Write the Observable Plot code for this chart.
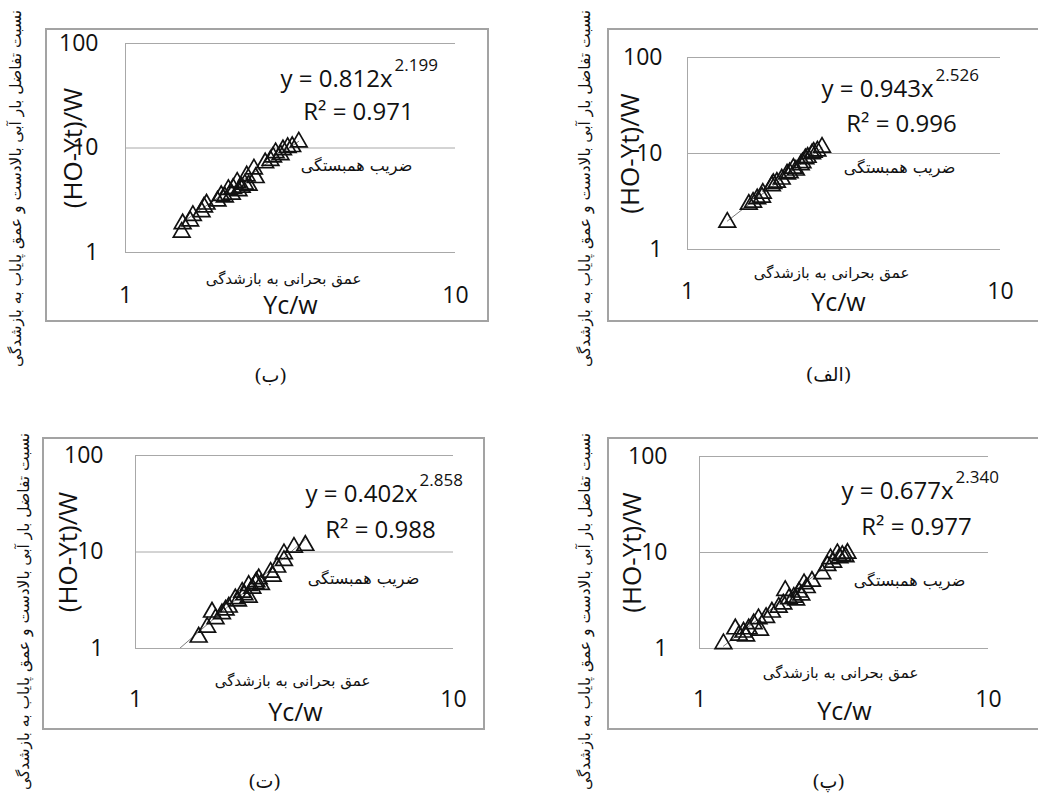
<!DOCTYPE html>
<html>
<head>
<meta charset="utf-8">
<script src="https://cdn.jsdelivr.net/npm/d3@7"></script>
<script src="https://cdn.jsdelivr.net/npm/@observablehq/plot@0.6"></script>
<style>
  html, body { margin: 0; padding: 0; background: #fff; overflow: hidden; }
  #root { position: relative; width: 1038px; height: 796px; overflow: hidden; }
  .panel { position: absolute; }
  .box { position: absolute; border: 2px solid #a3a3a3; box-sizing: border-box; pointer-events: none; }
</style>
</head>
<body>
<div id="root"></div>
<script>
// ---------------- DATA ----------------
// Panel (ب) top-left
const xBe = [1.48,1.49,1.57,1.60,1.70,1.73,1.76,1.90,1.95,2.00,2.05,2.10,2.12,2.18,2.20,2.25,2.30,2.33,2.36,2.45,2.48,2.65,2.75,2.80,2.85,2.95,3.00,3.10,3.20,3.35];
const yBe = [1.56,1.88,2.00,2.26,2.45,2.72,2.90,3.10,3.50,3.40,4.00,3.60,4.10,4.70,3.90,4.20,4.50,5.40,4.40,6.30,5.20,7.20,7.60,8.20,9.00,8.60,9.60,10.1,10.3,11.4];
// Panel (الف) top-right
const xAlef = [1.34,1.57,1.62,1.67,1.73,1.74,1.86,1.88,1.93,2.00,2.08,2.12,2.18,2.22,2.30,2.33,2.38,2.42,2.50,2.53,2.60,2.69];
const yAlef = [1.92,2.95,3.10,3.37,3.50,3.85,4.60,4.85,5.00,5.40,6.10,6.30,7.00,6.70,7.60,8.00,8.80,9.10,9.90,10.3,10.6,11.6];
// Panel (ت) bottom-left
const xTe = [1.58,1.68,1.74,1.785,1.87,1.92,1.965,2.06,2.10,2.165,2.20,2.27,2.27,2.33,2.385,2.40,2.44,2.48,2.66,2.70,2.79,2.93,2.93,3.15,3.42];
const yTe = [1.31,1.66,2.38,2.03,2.29,2.50,2.68,3.27,3.10,3.83,3.60,4.50,3.40,4.20,4.68,4.90,5.27,4.60,6.17,5.60,6.96,8.16,9.58,11.2,11.7];
// Panel (پ) bottom-right
const xPe = [1.21,1.33,1.37,1.42,1.45,1.48,1.54,1.60,1.62,1.70,1.78,1.88,1.95,1.98,2.04,2.12,2.16,2.21,2.25,2.30,2.35,2.45,2.66,2.77,2.84,2.90,3.00,3.05,3.12,3.20,3.25];
const yPe = [1.12,1.60,1.37,1.48,1.35,1.60,1.81,2.04,1.55,2.10,2.39,2.69,2.90,4.02,3.30,3.42,3.20,3.86,3.60,4.72,4.30,5.00,6.00,7.30,8.60,7.90,9.70,8.80,9.30,9.00,9.80];

// Fit coefficients (panel order: ب, الف, ت, پ)
const panelNames = ["(ب)", "(الف)", "(ت)", "(پ)"];
const coefA = [0.812, 0.943, 0.402, 0.677];
const coefB = [2.199, 2.526, 2.858, 2.340];
const rSquared = [0.971, 0.996, 0.988, 0.977];
const trendFrom = [1.48, 1.34, 1.30, 1.21];
const trendTo = [3.35, 2.69, 3.42, 3.25];

// Axis ticks and labels
const xTicks = [1, 10];
const yTicks = [1, 10, 100];
const xLabel = "Yc/w";
const yLabel = "(HO-Yt)/W";
const xLabelFa = "عمق بحرانی به بازشدگی";
const yLabelFa = "نسبت تفاضل بار آبی بالادست و عمق پایاب به بازشدگی";
const corrFa = "ضریب همبستگی";

// ---------------- LAYOUT ----------------
const xsAll = [xBe, xAlef, xTe, xPe];
const ysAll = [yBe, yAlef, yTe, yPe];
const layouts = [
  {ox:0, oy:0, L:125, R:455, T:43, B:252, box:[45,28,489,322], yPad:27, xTickY:294, ylabX:73, faYX:16, faYY:188,
   eqEnd:392, eqY:79, r2X:358, r2Y:112, corrX:356, corrY:165, faXX:283, faXY:279, ycX:290, ycY:305, capX:270, capY:375},
  {ox:519, oy:0, L:687, R:1000, T:57, B:249, box:[607,28,1041,322], yPad:25, xTickY:290, ylabX:630, faYX:585, faYY:188,
   eqEnd:933, eqY:89, r2X:901, r2Y:124, corrX:899, corrY:167, faXX:831, faXY:273, ycX:838, ycY:302, capX:828, capY:374},
  {ox:0, oy:398, L:135, R:453, T:455, B:648, box:[42,437,485,730], yPad:32, xTickY:698, ylabX:68, faYX:24, faYY:611,
   eqEnd:417, eqY:494, r2X:380, r2Y:530, corrX:363, corrY:578, faXX:292, faXY:681, ycX:295, ycY:712, capX:264, capY:781},
  {ox:519, oy:398, L:699, R:988, T:456, B:648, box:[607,437,1041,730], yPad:32, xTickY:698, ylabX:632, faYX:585, faYY:611,
   eqEnd:953, eqY:491, r2X:916, r2Y:527, corrX:909, corrY:580, faXX:840, faXY:673, ycX:844, ycY:711, capX:828, capY:781}
];

const W = 519, H = 398;
const latin = "'Open Sans', 'Liberation Sans', sans-serif";
const farsi = "'DejaVu Sans', sans-serif";
const ink = "#111";

const root = document.getElementById("root");

layouts.forEach((lay, i) => {
  const pts = xsAll[i].map((x, j) => ({x, y: ysAll[i][j]}));
  const a = coefA[i], b = coefB[i];
  const trend = [trendFrom[i], trendTo[i]].map(x => ({x, y: a * Math.pow(x, b)}));

  const mL = lay.L - lay.ox, mT = lay.T - lay.oy;
  const mR = W - (lay.R - lay.ox), mB = H - (lay.B - lay.oy);
  // annotation placed at an absolute page position
  const note = (txt, ax, ay, opts) => Plot.text([txt], {
    text: d => d, frameAnchor: "top-left",
    dx: ax - lay.L, dy: ay - lay.T,
    fill: ink, ...opts
  });
  const capH = 23 * 0.714;

  const chart = Plot.plot({
    width: W, height: H,
    marginLeft: mL, marginRight: mR, marginTop: mT, marginBottom: mB,
    style: {background: "transparent", overflow: "visible"},
    x: {type: "log", domain: [1, 10]},
    y: {type: "log", domain: [1, 100]},
    marks: [
      Plot.ruleY(yTicks, {stroke: "#a8a8a8", strokeWidth: 1}),
      Plot.ruleX([1], {stroke: "#a8a8a8", strokeWidth: 1}),
      Plot.line(trend, {x: "x", y: "y", stroke: "#7a7a7a", strokeWidth: 1, clip: true}),
      Plot.dot(pts, {x: "x", y: "y", symbol: "triangle", r: 6.2, fill: "none", stroke: "#111", strokeWidth: 1.7}),
      Plot.axisX({ticks: xTicks, tickFormat: d => String(d), tickSize: 0, tickPadding: lay.xTickY - capH / 2 - lay.B,
                  fontSize: 23, fontFamily: latin, fill: ink, label: null}),
      Plot.axisY({ticks: yTicks, tickFormat: d => String(d), tickSize: 0, tickPadding: lay.yPad,
                  fontSize: 23, fontFamily: latin, fill: ink, label: null}),
      note(xLabel, lay.ycX, lay.ycY, {fontSize: 25, fontFamily: latin, textAnchor: "middle", lineAnchor: "middle"}),
      note(yLabel, lay.ylabX, (lay.T + lay.B) / 2, {fontSize: 26, fontFamily: latin, textAnchor: "middle", lineAnchor: "middle", rotate: -90}),
      note(yLabelFa, lay.faYX, lay.faYY, {fontSize: 15.5, fontFamily: farsi, textAnchor: "middle", lineAnchor: "middle", rotate: -90}),
      note(xLabelFa, lay.faXX, lay.faXY, {fontSize: 15, fontFamily: farsi, textAnchor: "middle", lineAnchor: "middle"}),
      note(corrFa, lay.corrX, lay.corrY, {fontSize: 16, fontFamily: farsi, textAnchor: "middle", lineAnchor: "middle"}),
      note("y = " + a.toFixed(3) + "x", lay.eqEnd, lay.eqY, {fontSize: 24, fontFamily: latin, textAnchor: "end", lineAnchor: "middle", ariaLabel: "equation"}),
      note(b.toFixed(3), lay.eqEnd + 2, lay.eqY - 14, {fontSize: 17, fontFamily: latin, textAnchor: "start", lineAnchor: "middle", ariaLabel: "exponent"}),
      note("R² = " + rSquared[i].toFixed(3), lay.r2X, lay.r2Y, {fontSize: 24, fontFamily: latin, textAnchor: "middle", lineAnchor: "middle", ariaLabel: "rsquared"}),
      note(panelNames[i], lay.capX, lay.capY, {fontSize: 19, fontFamily: "'DejaVu Serif', 'DejaVu Sans', serif", textAnchor: "middle", lineAnchor: "middle"})
    ]
  });

  // wider letter spacing, as in the reference's stretched trendline labels
  d3.select(chart).selectAll('g[aria-label="equation"] text, g[aria-label="rsquared"] text').attr("letter-spacing", "1.4px");
  d3.select(chart).selectAll('g[aria-label="exponent"] text').attr("letter-spacing", "0.8px");

  const wrap = document.createElement("div");
  wrap.className = "panel";
  wrap.style.left = lay.ox + "px";
  wrap.style.top = lay.oy + "px";
  wrap.appendChild(chart);
  root.appendChild(wrap);

  const box = document.createElement("div");
  box.className = "box";
  box.style.left = lay.box[0] + "px";
  box.style.top = lay.box[1] + "px";
  box.style.width = (lay.box[2] - lay.box[0]) + "px";
  box.style.height = (lay.box[3] - lay.box[1]) + "px";
  root.appendChild(box);
});
</script>
</body>
</html>
